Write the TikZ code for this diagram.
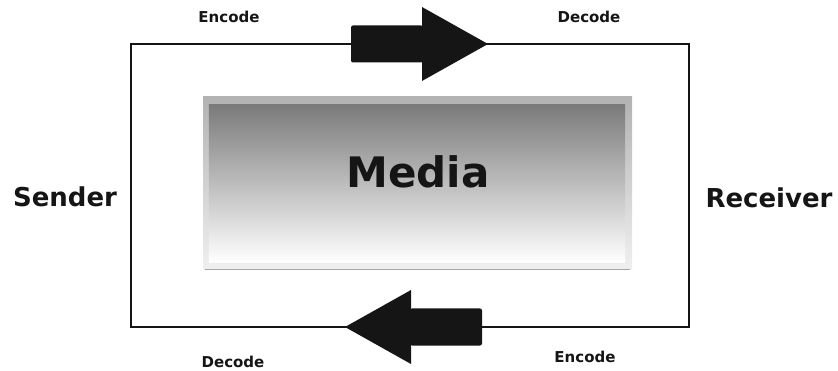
\documentclass[tikz,border=0pt]{standalone}
\usepackage{fontspec}
\setmainfont{DejaVu Sans}
\usetikzlibrary{positioning,calc}
\definecolor{ink}{HTML}{151515}
\tikzset{
  every node/.style={text=ink,inner sep=0pt},
  party/.style={font=\fontsize{26}{30}\selectfont\bfseries},
  codelabel/.style={font=\fontsize{15}{18}\selectfont\bfseries},
  mediatext/.style={font=\fontsize{42}{48}\selectfont\bfseries},
  loop/.style={draw=ink,line width=2.8pt,line join=miter},
  bevel/.style={minimum width=429pt,minimum height=173pt,top color=black!30,bottom color=black!6},
  fatarrow/.pic={
    \fill[ink,rounded corners=2pt] (0,-18.5) -- (72,-18.5) -- (72,18.5) -- (0,18.5) -- cycle;
    \fill[ink] (71,-37) -- (137,0) -- (71,37) -- cycle;
  },
}

\begin{document}
\begin{tikzpicture}[x=1pt,y=-1pt]
\useasboundingbox (0,0) rectangle (838,371);

% loop corners
\coordinate (tl) at (131,44);
\coordinate (tr) at (689,44);
\coordinate (br) at (689,327);
\coordinate (bl) at (131,327);
\draw[loop] (tl) -- (tr) -- (br) -- (bl) -- cycle;

% big arrows
\coordinate (toptail) at (351,44);
\coordinate (bottail) at (482,327);
\pic at (toptail) {fatarrow};
\pic[xscale=-1] at (bottail) {fatarrow};

% media box
\node[bevel] (mediabox) at (417.5,183.5) {};
\shade[top color=black!52,bottom color=white] ($(mediabox.north west)+(6,8)$) rectangle ($(mediabox.south east)+(-7,-8)$);
\draw[black!35,line width=1.5pt] ($(mediabox.south west)+(2,-0.8)$) -- ($(mediabox.south east)+(-2,-0.8)$);
\node[mediatext] (media) at (418,172) {Media};

% parties
\node[party] (sender) at (65,197) {Sender};
\node[party] (receiver) at (769,198) {Receiver};

% encode / decode
\node[codelabel] (enctop) at (229,17) {Encode};
\node[codelabel] (dectop) at (589,17) {Decode};
\node[codelabel] (decbot) at (233,362) {Decode};
\node[codelabel] (encbot) at (585,357) {Encode};

\end{tikzpicture}
\end{document}
